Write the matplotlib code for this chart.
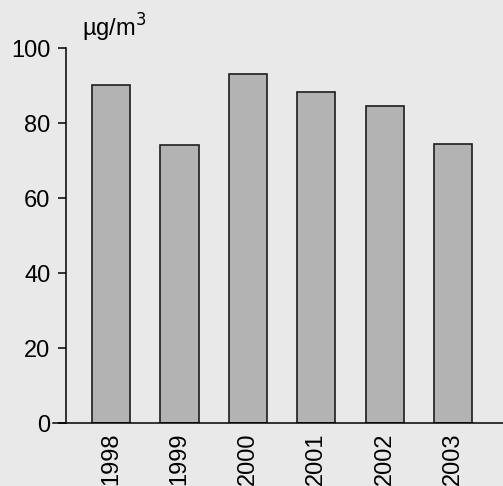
import numpy as np
import matplotlib.pyplot as plt

plt.rcParams['font.family'] = ['Liberation Sans', 'DejaVu Sans']

years = ['1998', '1999', '2000', '2001', '2002', '2003']
values = [90.1, 74.2, 93.0, 88.3, 84.6, 74.4]
y_ticks = [0, 20, 40, 60, 80, 100]

fig = plt.figure(figsize=(5.03, 4.86), dpi=100)
fig.patch.set_facecolor('#e9e9ea')
ax = fig.add_axes([0.131, 0.1296, 0.869, 0.7716])
ax.set_facecolor('#e9e9ea')

x = np.arange(len(years))
ax.bar(x, values, width=0.56, color='#b3b3b3', edgecolor='#1e1e1e', linewidth=1.2)

ax.set_xlim(-0.66, 5.73)
ax.set_ylim(0, 100)
ax.set_yticks(y_ticks)
ax.set_xticks(x)
ax.set_xticklabels(years, rotation=90, fontsize=17)
ax.tick_params(axis='y', labelsize=17, length=6, width=1.1, pad=5, direction='out')
ax.tick_params(axis='x', length=0, pad=7)

for side in ['top', 'right']:
    ax.spines[side].set_visible(False)
ax.spines['left'].set_linewidth(1.1)
ax.spines['bottom'].set_linewidth(1.1)
ax.spines['bottom'].set_bounds(-0.85, 5.73)

ax.text(0.036, 103, r'µg/m$^{3}$', fontsize=17, ha='left', va='baseline',
        transform=ax.get_yaxis_transform(), clip_on=False)

fig.savefig('out.png', dpi=100, facecolor=fig.get_facecolor())
